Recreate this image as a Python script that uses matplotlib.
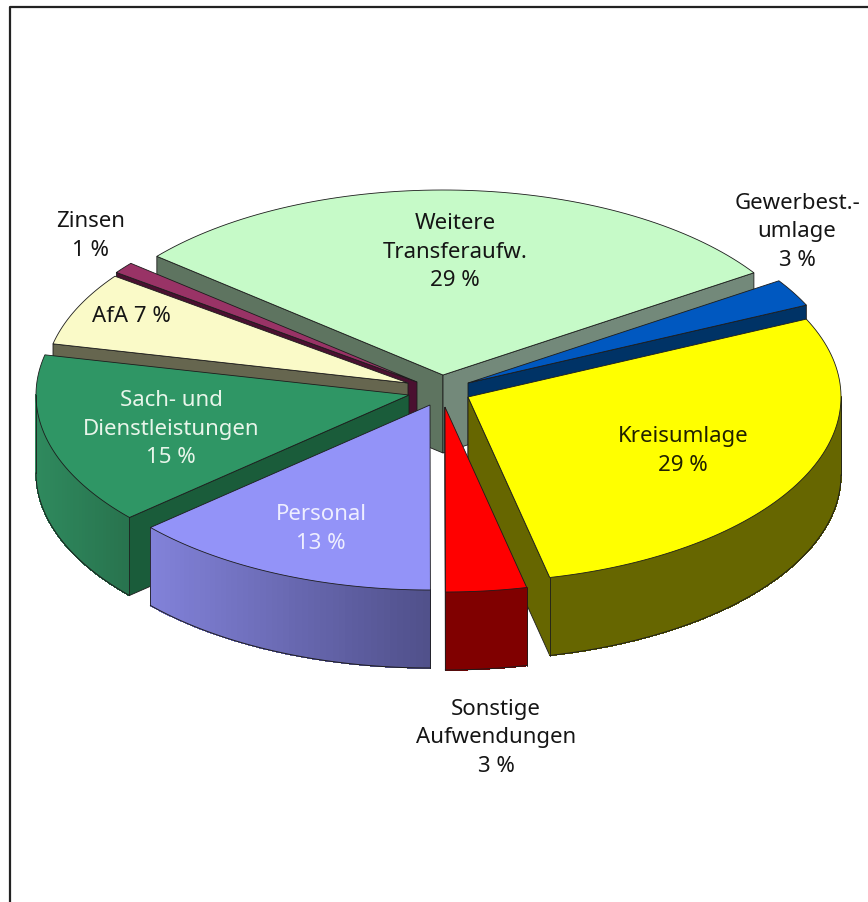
"""
plot.py - exploded pseudo-3D pie of municipal expenses, drawn from shares with plain polygons.
"""
import numpy as np
import matplotlib
matplotlib.use("Agg")
import matplotlib.pyplot as plt
from matplotlib.colors import to_rgb
from matplotlib.patches import Polygon

categories = ["Weitere Transferaufw.", "Gewerbest.-umlage", "Kreisumlage", "Sonstige Aufwendungen",
              "Personal", "Sach- und Dienstleistungen", "AfA", "Zinsen"]
shares = [29.6, 2.4, 28.4, 3.5, 13.5, 15.0, 6.6, 1.0]
label_texts = ["Weitere\nTransferaufw.\n29 %", "Gewerbest.-\numlage\n3 %", "Kreisumlage\n29 %",
               "Sonstige\nAufwendungen\n3 %", "Personal\n13 %", "Sach- und\nDienstleistungen\n15 %",
               "AfA 7 %", "Zinsen\n1 %"]

# styling per slice, same order as categories
apex = [(443, 375), (468, 383), (468, 397), (445, 407), (430, 405), (409, 395), (408, 383), (417, 382)]
radius_scale = [1, 1, 1, 1, 1, 1, 0.975, 1]
top_colors = ["#c6fac8", "#0058c0", "#ffff00", "#ff0000", "#9393f8", "#2f9665", "#fafac8", "#993366"]
face_hi = ["#5e7460", "#003366", "#666600", "#800000", "#5a5a90", "#1a5c3a", "#66664f", "#4a1030"]
face_lo = ["#73897a", "#003366", "#666600", "#800000", "#5a5a90", "#1a5c3a", "#66664f", "#4a1030"]
side_left = ["#6f8874", "#003366", "#666600", "#800000", "#8282da", "#2f8a5e", "#66664f", "#4a1030"]
side_right = ["#6f8874", "#003366", "#666600", "#800000", "#50508a", "#28734e", "#66664f", "#4a1030"]
label_pos = [(455, 252), (797, 232), (683, 451), (496, 738), (321, 529), (171, 429), (131, 317), (91, 236)]
label_colors = ["#151515", "#151515", "#202000", "#151515", "#eeeeff", "#e8f5ea", "#151515", "#151515"]
draw_order = [0, 7, 6, 5, 1, 2, 3, 4]

START_ANGLE = 140.1
RX, RY, DEPTH = 373, 185, 78
EDGE = "#1c1c1c"


def rim(cx, cy, angles, scale=1.0):
    rad = np.radians(angles)
    return cx + scale * RX * np.cos(rad), cy - scale * RY * np.sin(rad)


def draw_radial_face(ax, cx, cy, angle, color, scale):
    x, y = rim(cx, cy, np.array([angle]), scale)
    pts = [(cx, cy), (x[0], y[0]), (x[0], y[0] + DEPTH), (cx, cy + DEPTH)]
    ax.add_patch(Polygon(pts, closed=True, facecolor=color, edgecolor=EDGE, linewidth=0.6))


def draw_outer_side(ax, cx, cy, hi, lo, c_left, c_right, scale):
    # only the part of the rim turned towards the viewer (lower half of the ellipse)
    angles = np.unique(np.clip(np.arange(np.floor(lo), np.ceil(hi) + 1.0, 1.0), lo, hi))
    norm_angles = np.mod(angles, 360)
    angles = angles[(norm_angles >= 180) | (norm_angles == 0)]
    if len(angles) < 2:
        return
    x, y = rim(cx, cy, angles, scale)
    c0 = np.array(to_rgb(c_left))
    c1 = np.array(to_rgb(c_right))
    span = max(x.max() - x.min(), 1)
    for i in range(len(angles) - 1):
        t = ((x[i] + x[i + 1]) / 2 - x.min()) / span
        col = c0 + (c1 - c0) * t
        pts = [(x[i], y[i]), (x[i + 1], y[i + 1]), (x[i + 1], y[i + 1] + DEPTH), (x[i], y[i] + DEPTH)]
        ax.add_patch(Polygon(pts, closed=True, facecolor=col, edgecolor=col, linewidth=0.5, antialiased=False))
    ax.plot(x, y + DEPTH, color=EDGE, linewidth=0.7)
    ax.plot([x[0], x[0]], [y[0], y[0] + DEPTH], color=EDGE, linewidth=0.6)
    ax.plot([x[-1], x[-1]], [y[-1], y[-1] + DEPTH], color=EDGE, linewidth=0.6)


fig = plt.figure(figsize=(8.68, 9.02), dpi=100, facecolor="white")
ax = fig.add_axes([0, 0, 1, 1])
ax.set_xlim(0, 868)
ax.set_ylim(902, 0)
ax.axis("off")

# chart frame, runs off the right and bottom of the crop
ax.plot([10, 10, 868], [902, 7, 7], color="#222222", linewidth=1.6)

# slice angles, clockwise from the start angle
spans = np.array(shares) / sum(shares) * 360.0
hi_angles = START_ANGLE - np.concatenate([[0], np.cumsum(spans)[:-1]])
lo_angles = hi_angles - spans

for i in draw_order:
    cx, cy = apex[i]
    hi, lo = hi_angles[i], lo_angles[i]
    scale = radius_scale[i]
    if np.sin(np.radians(hi + 90)) < -1e-6:
        draw_radial_face(ax, cx, cy, hi, face_hi[i], scale)
    if np.sin(np.radians(lo - 90)) < -1e-6:
        draw_radial_face(ax, cx, cy, lo, face_lo[i], scale)
    # shift so the angle range is in 0..360 for the rim test
    shift = 360 if lo < 0 else 0
    if lo + shift < 360 < hi + shift:
        draw_outer_side(ax, cx, cy, 360, lo + shift, side_left[i], side_right[i], scale)
    else:
        draw_outer_side(ax, cx, cy, hi + shift, lo + shift, side_left[i], side_right[i], scale)
    angles = np.linspace(hi, lo, 80)
    x, y = rim(cx, cy, angles, scale)
    pts = np.vstack([[cx, cy], np.column_stack([x, y])])
    ax.add_patch(Polygon(pts, closed=True, facecolor=top_colors[i], edgecolor=EDGE, linewidth=0.6))

for txt, pos, col in zip(label_texts, label_pos, label_colors):
    ax.text(pos[0], pos[1], txt, ha="center", va="center", color=col, fontsize=16,
            family="Noto Sans", linespacing=1.46)

fig.savefig("out.png", dpi=100)
